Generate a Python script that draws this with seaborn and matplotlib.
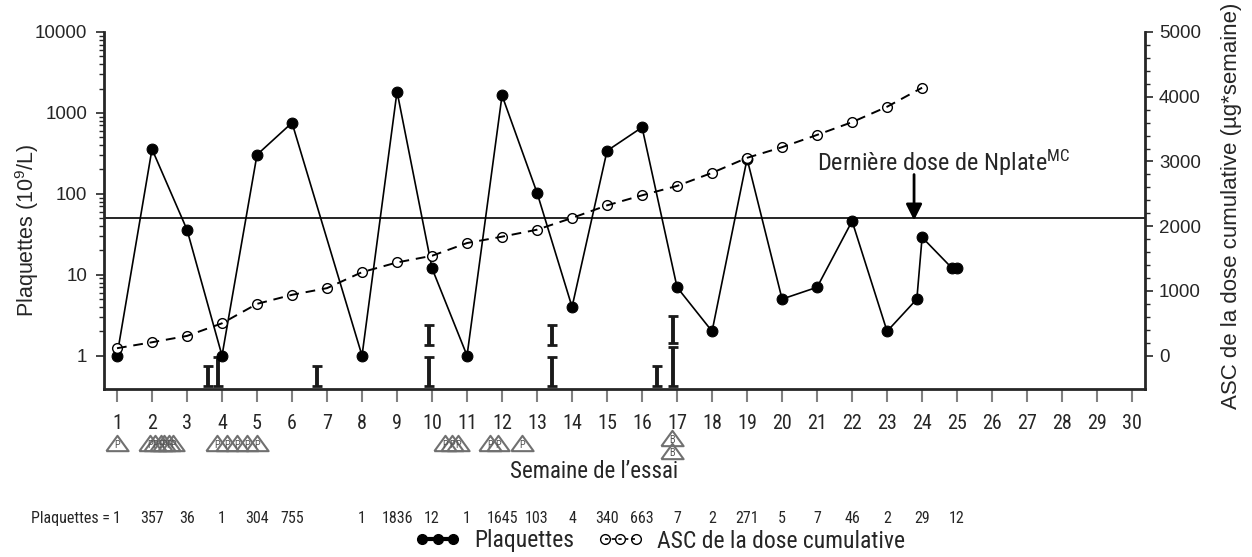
import matplotlib
matplotlib.use("Agg")
import matplotlib.pyplot as plt
import matplotlib.transforms as mtransforms
from matplotlib.lines import Line2D
from matplotlib.legend_handler import HandlerTuple
from matplotlib.ticker import FixedLocator, NullFormatter
import seaborn as sns

# platelet counts (10^9/L) per study week
plt_weeks = [1, 2, 3, 4, 5, 6, 8, 9, 10, 11, 12, 13, 14, 15, 16, 17, 18, 19, 20,
             21, 22, 23, 23.85, 24, 24.86, 25]
plt_counts = [1, 357, 36, 1, 304, 755, 1, 1836, 12, 1, 1645, 103, 4, 340, 663, 7,
              2, 271, 5, 7, 46, 2, 5, 29, 12, 12]

# values printed in the "Plaquettes =" row
row_weeks = [1, 2, 3, 4, 5, 6, 8, 9, 10, 11, 12, 13, 14, 15, 16, 17, 18, 19, 20,
             21, 22, 23, 24, 25]
row_counts = [1, 357, 36, 1, 304, 755, 1, 1836, 12, 1, 1645, 103, 4, 340, 663, 7,
              2, 271, 5, 7, 46, 2, 29, 12]

# cumulative dose AUC (µg*semaine)
auc_weeks = list(range(1, 25))
auc_values = [115, 207, 305, 500, 800, 940, 1043, 1290, 1440, 1543, 1740, 1838,
              1946, 2127, 2322, 2477, 2622, 2824, 3056, 3220, 3410, 3607, 3845, 4139]

# I-shaped bars near the bottom of the plot
bar_weeks = [3.6, 3.89, 6.71, 9.91, 9.91, 13.43, 13.43, 16.43, 16.89, 16.89]
bar_low = [0.42, 0.42, 0.42, 0.42, 1.36, 0.42, 1.36, 0.42, 0.42, 1.43]
bar_high = [0.745, 0.96, 0.745, 0.96, 2.4, 0.96, 2.4, 0.745, 1.28, 3.1]

# triangle symbols under the week axis
tri_weeks = [1.0, 1.95, 2.1, 2.25, 2.35, 2.5, 2.6, 3.86, 4.14, 4.43, 4.71, 5.0,
             10.37, 10.57, 10.74, 11.66, 11.89, 12.57]
tri_labels = ["P"] * len(tri_weeks)
stack_weeks = [16.85, 16.85]
stack_labels = ["B", "B"]

last_dose_week = 23.77

NARROW = ["Roboto Condensed", "DejaVu Sans"]
REGULAR = ["Liberation Sans", "DejaVu Sans"]

sns.set_style("ticks")
plt.rcParams["font.family"] = NARROW
plt.rcParams["mathtext.default"] = "regular"

fig = plt.figure(figsize=(12.52, 5.57), dpi=100)
ax = fig.add_axes([0.0831, 0.3016, 0.8315, 0.641])
ax.set_yscale("log")

# platelets
sns.lineplot(x=plt_weeks, y=plt_counts, ax=ax, color="black", lw=1.2, marker="o",
             markersize=7.8, markeredgecolor="black", zorder=3)
ax.axhline(50, color="black", lw=1.2, zorder=2)

# I-bars
ax.errorbar(bar_weeks, bar_low,
            yerr=[[0] * len(bar_low), [h - l for h, l in zip(bar_high, bar_low)]],
            fmt="none", ecolor="#1a1a1a", elinewidth=2.8, capsize=3.5, capthick=2,
            zorder=2)

ax.set_xlim(0.63, 30.37)
ax.set_ylim(0.387, 10000)

ax.set_xticks(range(1, 31))
ax.tick_params(axis="x", direction="out", length=9, width=1.5, color="#808080",
               pad=9, labelsize=14.5)
ax.set_yticks([1, 10, 100, 1000, 10000])
ax.set_yticklabels(["1", "10", "100", "1000", "10000"], fontfamily=REGULAR,
                   fontsize=13.5)
minor = [m * 10 ** e for e in range(0, 4) for m in range(2, 10)]
ax.yaxis.set_minor_locator(FixedLocator(minor))
ax.yaxis.set_minor_formatter(NullFormatter())
ax.tick_params(axis="y", which="major", length=6, width=1.2, pad=6)
ax.tick_params(axis="y", which="minor", length=3.5, width=1)

for side in ["top", "right"]:
    ax.spines[side].set_visible(False)
for side in ["left", "bottom"]:
    ax.spines[side].set_linewidth(2)

ax.set_ylabel("Plaquettes (10$^{9}$/L)", fontfamily=REGULAR, fontsize=15.5)
ax.yaxis.set_label_coords(-0.061, 0.445)
ax.set_xlabel("Semaine de l’essai", fontsize=16.5)
ax.xaxis.set_label_coords(0.471, -0.2)

# cumulative AUC on the right axis
ax2 = ax.twinx()
ax2.plot(auc_weeks, auc_values, ls="none", marker="o", mfc="white", mec="black",
         ms=7, mew=1, zorder=2)
sns.lineplot(x=auc_weeks, y=auc_values, ax=ax2, color="black", lw=1.4,
             linestyle=(0, (5, 3.5)), zorder=3)
ax2.set_ylim(-515, 5000)
ax2.set_yticks(range(0, 5001, 1000))
ax2.set_yticklabels([str(v) for v in range(0, 5001, 1000)], fontfamily=REGULAR,
                    fontsize=13.5)
ax2.yaxis.set_minor_locator(FixedLocator(list(range(0, 5001, 200))))
ax2.tick_params(axis="y", which="major", length=6, width=1.2, pad=4)
ax2.tick_params(axis="y", which="minor", length=3.5, width=1)
for side in ["top", "left", "bottom"]:
    ax2.spines[side].set_visible(False)
ax2.spines["right"].set_linewidth(2)
ax2.set_ylabel("ASC de la dose cumulative (µg*semaine)", fontfamily=REGULAR,
               fontsize=16)
ax2.yaxis.set_label_coords(1.073, 0.513)

# last dose annotation
ax.annotate("", xy=(last_dose_week, 47), xytext=(last_dose_week, 173),
            arrowprops=dict(arrowstyle="-|>", color="black", lw=2,
                            mutation_scale=24, shrinkA=0, shrinkB=0))
ax.text(21.0, 194, "Dernière dose de Nplate$^{\\mathregular{MC}}$", ha="left",
        va="baseline", fontsize=17.5)

# triangles below the axis
trans = mtransforms.blended_transform_factory(ax.transData, ax.transAxes)
tri_marker = [(-1.45, -1), (1.45, -1), (0, 1), (-1.45, -1)]
tri_style = dict(ls="none", marker=tri_marker, ms=16, mfc="none", mec="#707070",
                 mew=1.5, clip_on=False, transform=trans)
ax.plot(tri_weeks, [-0.151] * len(tri_weeks), **tri_style)
for w, s in zip(tri_weeks, tri_labels):
    ax.text(w, -0.157, s, transform=trans, ha="center", va="center", fontsize=7.5,
            color="#555555")
for i, (w, s) in enumerate(zip(stack_weeks, stack_labels)):
    y = -0.137 - 0.037 * i
    ax.plot([w], [y], **tri_style)
    ax.text(w, y - 0.006, s, transform=trans, ha="center", va="center",
            fontsize=7.5, color="#555555")

# platelet row
ax.text(0.8, -0.364, "Plaquettes =", transform=trans, ha="right", va="center",
        fontsize=11.5)
for w, c in zip(row_weeks, row_counts):
    ax.text(w, -0.364, str(c), transform=trans, ha="center", va="center",
            fontsize=11.5)

# legend
h_plt = Line2D([], [], color="black", lw=3, marker="o", ms=7)
h_auc_m = Line2D([], [], ls="none", marker="o", mfc="white", mec="black", ms=7)
h_auc_l = Line2D([], [], color="black", lw=1.2, ls=(0, (2, 2)))
fig.legend([h_plt, (h_auc_m, h_auc_l)], ["Plaquettes", "ASC de la dose cumulative"],
           handler_map={tuple: HandlerTuple(ndivide=1, pad=0)}, loc="center",
           bbox_to_anchor=(660 / 1252, 1 - 541 / 557), ncol=2, frameon=False,
           fontsize=17, numpoints=3, handlelength=1.9, handletextpad=0.6,
           columnspacing=1.0)

fig.savefig("out.png", dpi=100)
